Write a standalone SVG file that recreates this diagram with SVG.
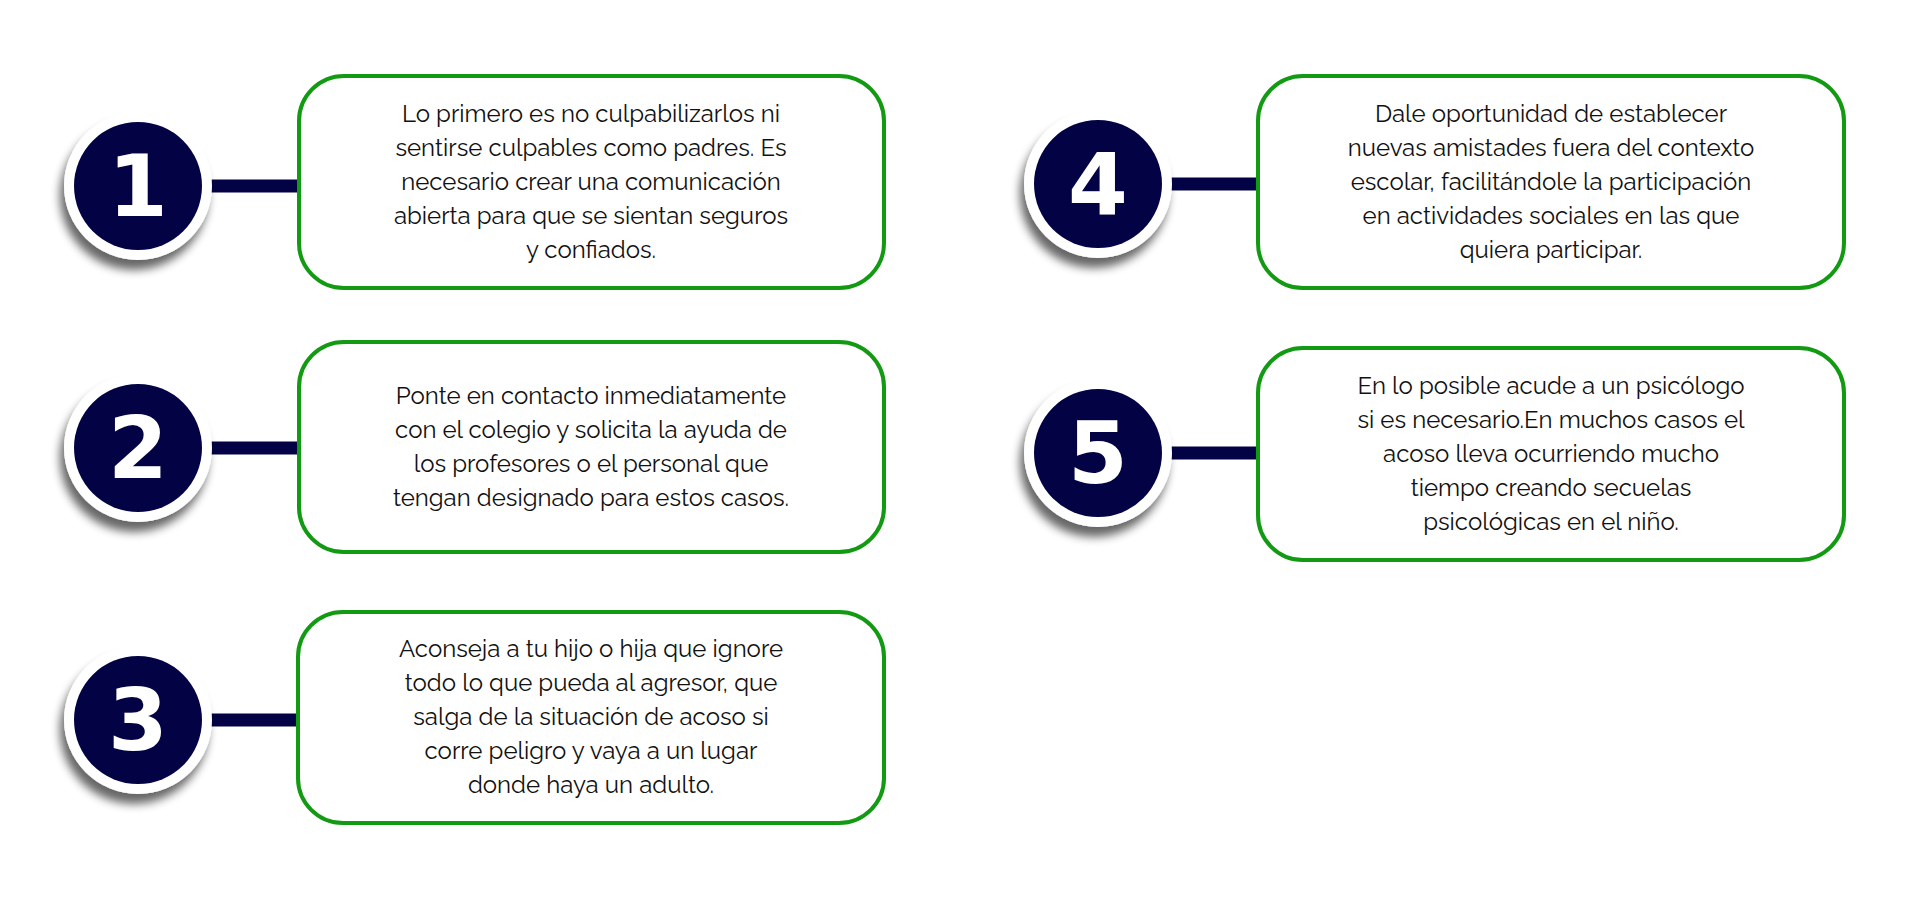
<svg xmlns="http://www.w3.org/2000/svg" width="1920" height="900" viewBox="0 0 1920 900">
<defs>
<filter id="sh" x="-30%" y="-30%" width="160%" height="170%"><feGaussianBlur in="SourceAlpha" stdDeviation="5"/><feOffset dx="-4" dy="10"/><feComponentTransfer><feFuncA type="linear" slope="0.6"/></feComponentTransfer><feMerge><feMergeNode/><feMergeNode in="SourceGraphic"/></feMerge></filter>
</defs>
<style>
.box{fill:#fff;stroke:#129a12;stroke-width:4}
.t{font-family:Raleway,Lato,"Open Sans",sans-serif;font-size:24px;fill:#111;text-anchor:middle}
.n{font-family:"DejaVu Sans",sans-serif;font-weight:900;font-size:86px;fill:#fff;text-anchor:middle}
.ln{stroke:#020245;stroke-width:13}
</style>
<rect width="1920" height="900" fill="#fff"/>
<g id="connectors">
<line class="ln" x1="210" y1="186" x2="299" y2="186"/>
<line class="ln" x1="210" y1="448" x2="299" y2="448"/>
<line class="ln" x1="210" y1="720" x2="299" y2="720"/>
<line class="ln" x1="1170" y1="184" x2="1258" y2="184"/>
<line class="ln" x1="1170" y1="453" x2="1258" y2="453"/>
</g>
<g id="n1"><circle cx="138" cy="186" r="74" fill="#fff" filter="url(#sh)"/><circle cx="138" cy="186" r="64" fill="#020245"/><text class="n" x="138" y="216">1</text></g>
<g id="n2"><circle cx="138" cy="448" r="74" fill="#fff" filter="url(#sh)"/><circle cx="138" cy="448" r="64" fill="#020245"/><text class="n" x="138" y="478">2</text></g>
<g id="n3"><circle cx="138" cy="720" r="74" fill="#fff" filter="url(#sh)"/><circle cx="138" cy="720" r="64" fill="#020245"/><text class="n" x="138" y="750">3</text></g>
<g id="n4"><circle cx="1098" cy="184" r="74" fill="#fff" filter="url(#sh)"/><circle cx="1098" cy="184" r="64" fill="#020245"/><text class="n" x="1098" y="214">4</text></g>
<g id="n5"><circle cx="1098" cy="453" r="74" fill="#fff" filter="url(#sh)"/><circle cx="1098" cy="453" r="64" fill="#020245"/><text class="n" x="1098" y="483">5</text></g>
<g id="b1"><rect class="box" x="299" y="76" width="585" height="212" rx="45"/>
<text class="t" x="591"><tspan x="591" y="122">Lo primero es no culpabilizarlos ni</tspan><tspan x="591" y="156">sentirse culpables como padres. Es</tspan><tspan x="591" y="190">necesario crear una comunicación</tspan><tspan x="591" y="224">abierta para que se sientan seguros</tspan><tspan x="591" y="258">y confiados.</tspan></text></g>
<g id="b2"><rect class="box" x="299" y="342" width="585" height="210" rx="45"/>
<text class="t"><tspan x="591" y="404">Ponte en contacto inmediatamente</tspan><tspan x="591" y="438">con el colegio y solicita la ayuda de</tspan><tspan x="591" y="472">los profesores o el personal que</tspan><tspan x="591" y="506">tengan designado para estos casos.</tspan></text></g>
<g id="b3"><rect class="box" x="298" y="612" width="586" height="211" rx="45"/>
<text class="t"><tspan x="591" y="657">Aconseja a tu hijo o hija que ignore</tspan><tspan x="591" y="691">todo lo que pueda al agresor, que</tspan><tspan x="591" y="725">salga de la situación de acoso si</tspan><tspan x="591" y="759">corre peligro y vaya a un lugar</tspan><tspan x="591" y="793">donde haya un adulto.</tspan></text></g>
<g id="b4"><rect class="box" x="1258" y="76" width="586" height="212" rx="45"/>
<text class="t"><tspan x="1551" y="122">Dale oportunidad de establecer</tspan><tspan x="1551" y="156">nuevas amistades fuera del contexto</tspan><tspan x="1551" y="190">escolar, facilitándole la participación</tspan><tspan x="1551" y="224">en actividades sociales en las que</tspan><tspan x="1551" y="258">quiera participar.</tspan></text></g>
<g id="b5"><rect class="box" x="1258" y="348" width="586" height="212" rx="45"/>
<text class="t"><tspan x="1551" y="394">En lo posible acude a un psicólogo</tspan><tspan x="1551" y="428">si es necesario.En muchos casos el</tspan><tspan x="1551" y="462">acoso lleva ocurriendo mucho</tspan><tspan x="1551" y="496">tiempo creando secuelas</tspan><tspan x="1551" y="530">psicológicas en el niño.</tspan></text></g>
</svg>
